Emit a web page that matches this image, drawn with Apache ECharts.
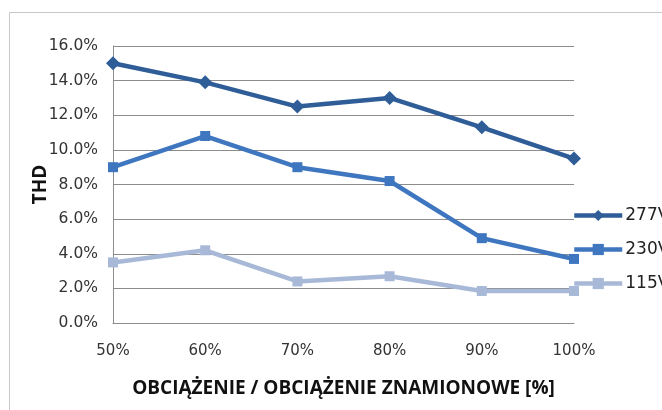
<!DOCTYPE html>
<html>
<head>
<meta charset="utf-8">
<script src="https://cdn.jsdelivr.net/npm/echarts@6/dist/echarts.min.js"></script>
<style>
  html, body { margin: 0; padding: 0; background: #fff; }
  #chart { width: 662px; height: 410px; }
</style>
</head>
<body>
<div id="chart"></div>
<script>
// obciazenie w % znamionowego
const categories = ['50%', '60%', '70%', '80%', '90%', '100%'];
const seriesNames = ['277V', '230V', '115V'];
const thd277 = [15.0, 13.9, 12.5, 13.0, 11.3, 9.5];
const thd230 = [9.0, 10.8, 9.0, 8.2, 4.9, 3.7];
const thd115 = [3.5, 4.2, 2.4, 2.7, 1.85, 1.85];
const yTicks = { min: 0, max: 16, interval: 2 };

const colors = ['#2f5d98', '#3f76c0', '#a8b9d8'];
const font = 'DejaVu Sans';

const chart = echarts.init(document.getElementById('chart'));

function makeSeries(name, data, symbol, size, color) {
    return {
        name: name,
        type: 'line',
        data: data,
        symbol: symbol,
        symbolSize: size,
        showSymbol: true,
        lineStyle: { width: 4.5, color: color },
        itemStyle: { color: color },
        emphasis: { disabled: true }
    };
}

const option = {
    animation: false,
    grid: { left: 113, right: 88, top: 46, bottom: 87 },
    graphic: [{
        type: 'rect',
        shape: { x: 9.5, y: 12.5, width: 700, height: 450 },
        style: { fill: 'none', stroke: '#c8c8c8', lineWidth: 1 },
        silent: true
    }],
    legend: {
        orient: 'vertical',
        left: 567,
        top: 202,
        itemGap: 17,
        itemWidth: 48,
        itemHeight: 14,
        lineStyle: { width: 4.5 },
        data: seriesNames,
        textStyle: { fontFamily: font, fontSize: 17, color: '#222', padding: [2, 0, 0, -2] }
    },
    xAxis: {
        type: 'category',
        data: categories,
        boundaryGap: false,
        axisLine: { lineStyle: { color: '#8c8c8c', width: 1 } },
        axisTick: { show: false },
        axisLabel: { fontFamily: font, fontSize: 15, color: '#333', margin: 21 },
        name: 'OBCIĄŻENIE / OBCIĄŻENIE ZNAMIONOWE [%]',
        nameLocation: 'middle',
        nameGap: 56,
        nameTextStyle: { fontFamily: 'Open Sans', fontWeight: 'bold', fontSize: 19, color: '#111' }
    },
    yAxis: {
        type: 'value',
        min: yTicks.min,
        max: yTicks.max,
        interval: yTicks.interval,
        axisLine: { show: true, lineStyle: { color: '#8c8c8c', width: 1 } },
        axisTick: { show: false },
        splitLine: { lineStyle: { color: '#8c8c8c', width: 1 } },
        axisLabel: {
            fontFamily: font, fontSize: 15.5, color: '#333', margin: 15,
            formatter: v => v.toFixed(1) + '%'
        },
        name: 'THD',
        nameLocation: 'middle',
        nameGap: 63,
        nameMoveOverlap: false,
        nameTextStyle: { fontFamily: 'Open Sans', fontWeight: 'bold', fontSize: 19, color: '#111' }
    },
    series: [
        makeSeries('277V', thd277, 'diamond', 14, colors[0]),
        makeSeries('230V', thd230, 'rect', 10, colors[1]),
        makeSeries('115V', thd115, 'rect', 10, colors[2])
    ]
};

chart.setOption(option);
</script>
</body>
</html>
